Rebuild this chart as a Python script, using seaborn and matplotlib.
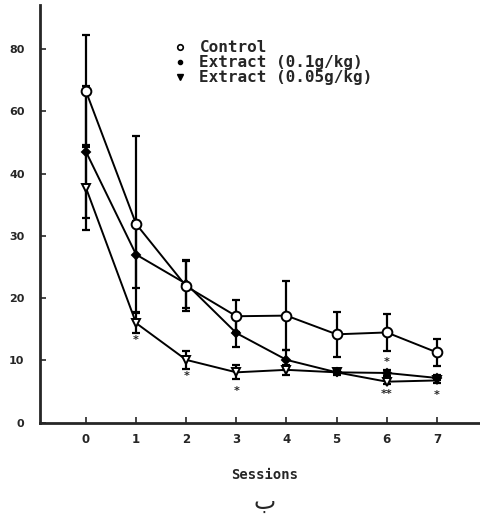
import numpy as np
import pandas as pd
import seaborn as sns
import matplotlib.pyplot as plt
from matplotlib.lines import Line2D

# values (axis units)
sessions = [0, 1, 2, 3, 4, 5, 6, 7]
control_mean = [53.2, 31.9, 21.9, 17.1, 17.2, 14.2, 14.5, 11.3]
control_se = [9.0, 14.1, 4.0, 2.6, 5.5, 3.6, 3.0, 2.2]
ext01_mean = [43.5, 27.0, 22.3, 14.4, 10.1, 8.1, 8.0, 7.2]
ext01_se = [10.6, 5.4, 3.8, 2.2, 1.6, 0.4, 0.5, 0.4]
ext005_mean = [37.7, 16.0, 10.1, 8.1, 8.5, 8.1, 6.6, 6.8]
ext005_se = [6.8, 1.6, 1.4, 1.1, 0.8, 0.3, 0.4, 0.4]

# significance marks
star_x = [1, 2, 3, 6, 6, 7]
star_y = [13.3, 7.5, 5.1, 9.8, 4.7, 4.5]
star_txt = ["*", "*", "*", "*", "**", "*"]

ytick_pos = [0, 10, 20, 30, 40, 50, 60]
ytick_lbl = ["0", "10", "20", "30", "40", "60", "80"]
labels = ["Control", "Extract (0.1g/kg)", "Extract (0.05g/kg)"]

sns.set_style("ticks")
plt.rcParams["font.family"] = ["DejaVu Sans"]

fig = plt.figure(figsize=(4.8, 5.22), dpi=100)
ax = fig.add_axes([0.083, 0.19, 0.917, 0.80])

df = pd.DataFrame({"session": sessions, "control": control_mean,
                   "ext01": ext01_mean, "ext005": ext005_mean})

styles = {
    "control": dict(marker="o", markersize=7, markerfacecolor="white"),
    "ext01": dict(marker="D", markersize=4.5, markerfacecolor="black"),
    "ext005": dict(marker="v", markersize=6, markerfacecolor="white"),
}
errs = {"control": control_se, "ext01": ext01_se, "ext005": ext005_se}

for key in ["ext005", "ext01", "control"]:
    ax.errorbar(df["session"], df[key], yerr=errs[key], fmt="none",
                ecolor="black", elinewidth=1.6, capsize=3, capthick=1.6, zorder=2)
    sns.lineplot(data=df, x="session", y=key, color="black", linewidth=1.4,
                 markeredgecolor="black", markeredgewidth=1.4, zorder=3,
                 ax=ax, **styles[key])

for sx, sy, st in zip(star_x, star_y, star_txt):
    ax.text(sx, sy, st, ha="center", va="center", fontsize=8, fontweight="bold")

ax.set_xlim(-0.92, 7.86)
ax.set_ylim(0, 67)
ax.set_xticks(sessions)
ax.set_xticklabels([str(s) for s in sessions], fontsize=8.5, fontweight="bold")
ax.set_yticks(ytick_pos)
ax.set_yticklabels(ytick_lbl, fontsize=8, fontweight="bold")
ax.tick_params(direction="in", length=4, width=1.2)
ax.tick_params(axis="x", pad=7)
ax.tick_params(axis="y", pad=11)
ax.set_xlabel("")
ax.set_ylabel("")
sns.despine(ax=ax)
ax.spines["left"].set_linewidth(2)
ax.spines["bottom"].set_linewidth(2)

# legend as marker + text rows
handles = [
    Line2D([], [], linestyle="none", marker="o", markersize=4, markerfacecolor="white",
           markeredgecolor="black", markeredgewidth=1.2),
    Line2D([], [], linestyle="none", marker="o", markersize=3, color="black"),
    Line2D([], [], linestyle="none", marker="v", markersize=4, color="black"),
]
ax.legend(handles, labels, loc="upper left", bbox_to_anchor=(0.29, 0.935),
          frameon=False, handlelength=0.6, handletextpad=0.9, labelspacing=0.0,
          borderpad=0, prop={"family": "DejaVu Sans Mono", "weight": "bold", "size": 11.5})

fig.text(0.552, 0.09, "Sessions", ha="center", va="center",
         fontsize=10, fontweight="bold", family="DejaVu Sans Mono")
fig.text(0.552, 0.038, "ب", ha="center", va="center", fontsize=17, family="DejaVu Sans")

fig.savefig("out.png", dpi=100)
